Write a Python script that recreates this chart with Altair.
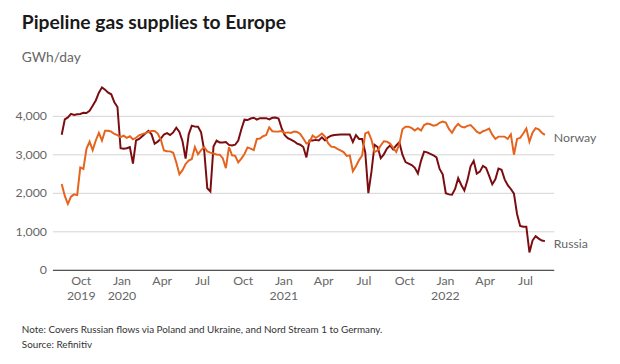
import altair as alt
import pandas as pd

start_date = "2019-08-19"
n_weeks = 157

russia = [
    3510, 3910, 3960, 4050, 4025, 4040, 4050, 4080, 4075, 4130,
    4260, 4400, 4600, 4740, 4680, 4600, 4560, 4350, 4230, 3160,
    3145, 3160, 3190, 2760, 3360, 3400, 3470, 3540, 3610, 3520,
    3275, 3330, 3410, 3515, 3550, 3500, 3570, 3690, 3580, 3340,
    2890, 3520, 3745, 3720, 3715, 3570, 3100, 2120, 2035, 3200,
    3355, 3310, 3310, 3320, 3245, 3230, 3250, 3360, 3650, 3900,
    3890, 3930, 3950, 3900, 3940, 3940, 3940, 3910, 3950, 3956,
    3930, 3680, 3500, 3420, 3380, 3340, 3280, 3250, 3190, 2920,
    3360, 3360, 3375, 3360, 3440, 3360, 3440, 3485, 3500, 3510,
    3513, 3513, 3513, 3513, 3320, 3500, 3400, 3400, 3050, 1990,
    2550, 3250, 3190, 2900, 3000, 3150, 3230, 3130, 3230, 3316,
    2990, 2800, 2760, 2720, 2650, 2500, 2830, 3070, 3050, 3010,
    2975, 2920, 2620, 2480, 1990, 1960, 1950, 2100, 2380, 2205,
    2060, 2330, 2690, 2830, 2500, 2550, 2700, 2650, 2440, 2220,
    2350, 2630, 2600, 2350, 2200, 2100, 1980, 1450, 1140, 1120,
    1120, 450, 760, 875, 810, 760, 745,
]

norway = [
    2230, 1920, 1710, 1900, 1960, 1940, 2660, 2620, 3145, 3330,
    3110, 3360, 3560, 3360, 3615, 3610, 3590, 3530, 3500, 3445,
    3487, 3430, 3470, 3390, 3430, 3495, 3525, 3550, 3580, 3605,
    3605, 3540, 3380, 3100, 3080, 3077, 3040, 2790, 2480, 2590,
    2750, 2840, 2880, 3190, 3000, 3110, 3185, 3077, 3045, 3020,
    2995, 2992, 2900, 2640, 3190, 2974, 2960, 2790, 2890, 3010,
    3180, 3150, 3110, 3400, 3410, 3470, 3500, 3700, 3600, 3590,
    3595, 3605, 3556, 3570, 3556, 3595, 3580, 3530, 3410, 3280,
    3316, 3490, 3430, 3475, 3540, 3460, 3290, 3200, 3190, 3140,
    3100, 3060, 2960, 2974, 2560, 2690, 2850, 2970, 3545, 3580,
    3380, 3060, 3100, 3230, 3340, 3330, 3280, 3170, 3060, 3270,
    3650, 3715, 3718, 3680, 3620, 3680, 3620, 3760, 3800, 3780,
    3745, 3760, 3820, 3850, 3825, 3660, 3560, 3700, 3790, 3720,
    3700, 3740, 3760, 3680, 3590, 3545, 3600, 3630, 3670, 3510,
    3400, 3460, 3460, 3460, 3400, 3520, 2990, 3400, 3427, 3540,
    3670, 3330, 3560, 3680, 3650, 3560, 3505,
]

series_names = ["Russia", "Norway"]
series_colors = ["#7b0c10", "#e5631d"]
y_ticks = [0, 1000, 2000, 3000, 4000]

title_text = "Pipeline gas supplies to Europe"
subtitle_text = "GWh/day"
note_lines = [
    "Note: Covers Russian flows via Poland and Ukraine, and Nord Stream 1 to Germany.",
    "Source: Refinitiv",
]

dates = pd.date_range(start=start_date, periods=n_weeks, freq="7D").strftime("%Y-%m-%d").tolist()

df = pd.concat([
    pd.DataFrame({"date": dates, "value": russia, "series": "Russia"}),
    pd.DataFrame({"date": dates, "value": norway, "series": "Norway"}),
])

last_df = pd.DataFrame({
    "date": [dates[-1], dates[-1]],
    "value": [russia[-1], norway[-1]],
    "series": ["Russia", "Norway"],
})

notes_df = pd.DataFrame({"text": note_lines})

FONT = "Lato"
NOTE_FONT = "Liberation Sans Narrow, Lato"
W, H = 508, 195

x_ticks = [
    alt.DateTime(year=y, month=m, date=1, utc=True)
    for (y, m) in [(2019, 10), (2020, 1), (2020, 4), (2020, 7), (2020, 10),
                   (2021, 1), (2021, 4), (2021, 7), (2021, 10),
                   (2022, 1), (2022, 4), (2022, 7)]
]

label_expr = (
    "(utcmonth(datum.value) == 0 || utcyear(datum.value) == 2019) ? "
    "[utcFormat(datum.value, '%b'), utcFormat(datum.value, '%Y')] : "
    "utcFormat(datum.value, '%b')"
)

x_enc = alt.X(
    "date:T",
    scale=alt.Scale(type="utc",
                    domain=[alt.DateTime(year=2019, month=7, date=29, utc=True),
                            alt.DateTime(year=2022, month=9, date=4, utc=True)]),
    axis=alt.Axis(
        values=x_ticks, labelExpr=label_expr, title=None, grid=False,
        ticks=False, domain=True, domainColor="#555555", domainWidth=1.2,
        labelColor="#666666", labelFontSize=12.5, labelFont=FONT,
        labelPadding=5, labelLineHeight=15,
    ),
)
y_enc = alt.Y(
    "value:Q",
    scale=alt.Scale(domain=[0, 5000], nice=False),
    axis=alt.Axis(
        values=y_ticks, format=",.0f", title=None, domain=False, ticks=False,
        gridColor="#d3d3d3", gridWidth=1, labelColor="#666666",
        labelFontSize=12.5, labelFont=FONT, labelPadding=6,
    ),
)
color_enc = alt.Color("series:N", scale=alt.Scale(domain=series_names, range=series_colors), legend=None)

lines = alt.Chart(df).mark_line(strokeWidth=2, interpolate="linear").encode(
    x=x_enc, y=y_enc, color=color_enc, detail="series:N"
)

end_labels = alt.Chart(last_df).mark_text(
    align="left", baseline="middle", dx=9, dy=3, font=FONT, fontSize=12.5, color="#666666"
).encode(x="date:T", y="value:Q", text="series:N")

note1 = alt.Chart(notes_df.iloc[[0]]).mark_text(
    align="left", baseline="middle", font=NOTE_FONT, fontSize=10, color="#333333"
).encode(x=alt.value(-31), y=alt.value(H + 61), text="text:N")
note2 = alt.Chart(notes_df.iloc[[1]]).mark_text(
    align="left", baseline="middle", font=NOTE_FONT, fontSize=10, color="#333333"
).encode(x=alt.value(-31), y=alt.value(H + 76), text="text:N")

chart = alt.layer(lines, end_labels, note1, note2).properties(
    width=W, height=H,
    autosize=alt.AutoSizeParams(type="none"),
    padding={"left": 45, "top": 68, "right": 59, "bottom": 80},
    title=alt.TitleParams(
        text=title_text, subtitle=subtitle_text, anchor="start", frame="group",
        dx=-31, font=FONT, fontSize=19.5, fontWeight="bold", color="#1a1a1a",
        subtitleFont=FONT, subtitleFontSize=14, subtitleColor="#666666",
        subtitlePadding=17, offset=12,
    ),
).configure_view(stroke=None)

chart.save("out.html", embed_options={"renderer": "svg", "actions": False})
